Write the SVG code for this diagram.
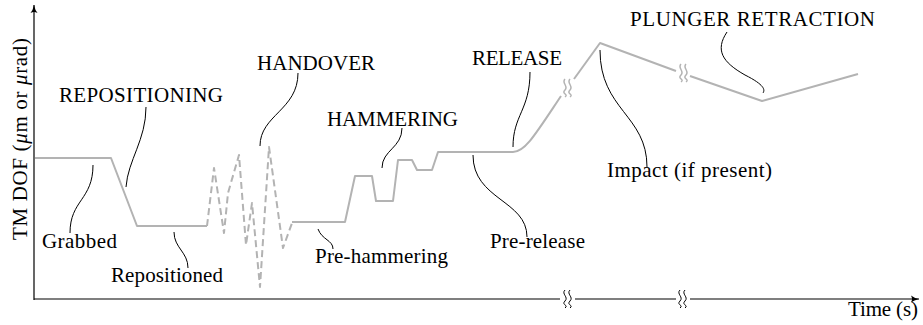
<svg xmlns="http://www.w3.org/2000/svg" width="923" height="325" viewBox="0 0 923 325">
  <defs>
    <style>
      text { font-family: 'Liberation Serif', 'DejaVu Serif', 'Times New Roman', serif; font-size: 21px; fill: #000; }
      .axis { fill: none; stroke: #000; stroke-width: 1.2; }
      .sig { fill: none; stroke: #b3b3b3; stroke-width: 2; stroke-linejoin: round; }
      .dash { stroke-dasharray: 7 4; }
      .lead { fill: none; stroke: #000; stroke-width: 1; }
      .brk { fill: none; stroke: #000; stroke-width: 1; }
      .brkg { fill: none; stroke: #b3b3b3; stroke-width: 1.5; }
    </style>
    <marker id="arr" markerWidth="10" markerHeight="8" refX="8" refY="4" orient="auto" markerUnits="userSpaceOnUse">
      <path d="M0,0.5 Q3,3 8,4 Q3,5 0,7.5 Q2,4 0,0.5 Z" fill="#000"/>
    </marker>
    <g id="squig">
      <path d="M-2,-9 C-6,-5 2,-2 -2,2 M-2,2 C-6,6 2,6 -2,9"/>
      <path d="M3,-9 C-1,-5 7,-2 3,2 M3,2 C-1,6 7,6 3,9"/>
    </g>
  </defs>

  <!-- axes -->
  <g id="axes">
    <line class="axis" x1="34" y1="300" x2="34" y2="5" marker-end="url(#arr)"/>
    <path class="axis" d="M34,299 L560,299 M575,299 L676,299 M690,299 L919,299" marker-end="url(#arr)"/>
    <use href="#squig" class="brk" x="567" y="299"/>
    <use href="#squig" class="brk" x="682" y="299"/>
    <text font-family="Liberation Serif, serif" transform="translate(27,139) rotate(-90)" text-anchor="middle" textLength="202" lengthAdjust="spacing">TM DOF (<tspan font-style="italic">μ</tspan>m or <tspan font-style="italic">μ</tspan>rad)</text>
    <text font-family="Liberation Serif, serif" x="848" y="316" textLength="70" lengthAdjust="spacing">Time (s)</text>
  </g>

  <!-- signal trace -->
  <g id="trace">
    <path class="sig" d="M35,158 L111,158 L137,226 L207,226"/>
    <path class="sig dash" d="M207,226 L214,168 L224,233 L228,193 L239,155 L246,245 L252,203 L260,287 L269,147 L283,248 L292,223"/>
    <path class="sig" d="M292,222 L345,222 L355,176 L372,176 L376,201 L393,201 L398,160 L412,160 L417,170 L432,170 L438,152 L513,152 C525,152 535,135 561,96"/>
    <path class="sig" d="M574,79 L600,43 L676,71"/>
    <path class="sig" d="M690,76 L762,101 L858,74"/>
    <use href="#squig" class="brkg" x="567" y="88"/>
    <use href="#squig" class="brkg" x="683" y="73"/>
  </g>

  <!-- phase labels with leaders -->
  <g id="grabbed">
    <path class="lead" d="M93,165 C93,200 70,200 70,233"/>
    <text x="42" y="248" textLength="75" lengthAdjust="spacing">Grabbed</text>
  </g>
  <g id="repositioning">
    <path class="lead" d="M146,107 C146,140 128,160 126,187"/>
    <text x="59" y="102" textLength="164" lengthAdjust="spacing">REPOSITIONING</text>
  </g>
  <g id="repositioned">
    <path class="lead" d="M174,232 C174,248 188,252 188,268"/>
    <text x="111" y="282" textLength="112" lengthAdjust="spacing">Repositioned</text>
  </g>
  <g id="handover">
    <path class="lead" d="M298,73 C298,110 260,115 260,146"/>
    <text x="257" y="70" textLength="118" lengthAdjust="spacing">HANDOVER</text>
  </g>
  <g id="hammering">
    <path class="lead" d="M402,128 C402,148 382,150 382,168"/>
    <text x="327" y="126" textLength="131" lengthAdjust="spacing">HAMMERING</text>
  </g>
  <g id="pre-hammering">
    <path class="lead" d="M318,229 C322,240 333,240 333,249"/>
    <text x="315" y="263" textLength="133" lengthAdjust="spacing">Pre-hammering</text>
  </g>
  <g id="release">
    <path class="lead" d="M530,72 C530,110 513,115 513,147"/>
    <text x="472" y="65" textLength="90" lengthAdjust="spacing">RELEASE</text>
  </g>
  <g id="pre-release">
    <path class="lead" d="M473,155 C473,200 527,200 527,237"/>
    <text x="490" y="248" textLength="95" lengthAdjust="spacing">Pre-release</text>
  </g>
  <g id="impact">
    <path class="lead" d="M600,50 C600,110 647,115 647,167"/>
    <text x="607" y="177" textLength="165" lengthAdjust="spacing">Impact (if present)</text>
  </g>
  <g id="plunger-retraction">
    <path class="lead" d="M727,32 C715,50 722,62 745,75 C765,85 765,90 763,93"/>
    <text x="630" y="26" textLength="245" lengthAdjust="spacing">PLUNGER RETRACTION</text>
  </g>
</svg>
